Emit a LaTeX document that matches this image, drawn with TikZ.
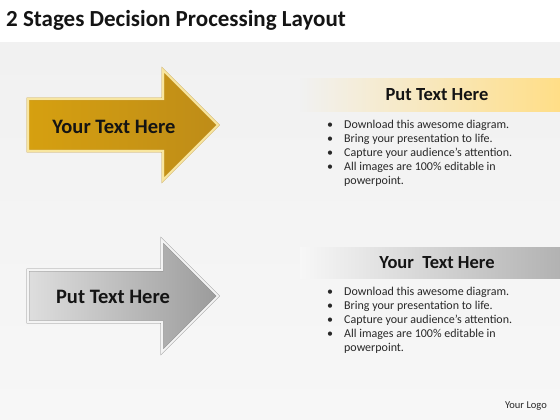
\documentclass[tikz,border=0pt]{standalone}
\usepackage{fontspec}
\setmainfont{Carlito}
\definecolor{goldA}{RGB}{214,160,16}
\definecolor{goldB}{RGB}{190,140,24}
\definecolor{goldEdge}{RGB}{200,160,60}
\definecolor{goldLight}{RGB}{248,230,160}
\definecolor{grayA}{RGB}{222,222,222}
\definecolor{grayB}{RGB}{155,155,155}
\definecolor{grayEdge}{RGB}{135,135,135}
\definecolor{grayLight}{RGB}{244,244,244}
\definecolor{bandYellow}{RGB}{255,222,135}
\definecolor{bandGray}{RGB}{178,178,178}
\definecolor{bgTop}{RGB}{241,241,241}
\definecolor{bgBot}{RGB}{247,247,247}
\definecolor{txt}{RGB}{20,20,20}
\definecolor{btxt}{RGB}{40,40,40}
\begin{document}
\begin{tikzpicture}[x=1pt,y=1pt,
  arrowtext/.style={font=\fontsize{20.5}{24}\selectfont\bfseries, text=txt},
  bandtitle/.style={font=\fontsize{18.5}{22}\selectfont\bfseries, text=txt},
  bullets/.style={anchor=north west, inner sep=0pt, text=btxt, font=\fontsize{12}{14.2}\selectfont},
]
\useasboundingbox (0,0) rectangle (560,420);
\fill[white] (0,0) rectangle (560,420);
\shade[top color=bgTop, bottom color=bgBot] (0,0) rectangle (560,377);
% title
\node[anchor=west, inner sep=0pt, text=txt, font=\fontsize{23}{27}\selectfont\bfseries] (title) at (6,400) {2 Stages Decision Processing Layout};
% arrow 1 (gold)
\shade[left color=goldA, right color=goldB, draw=goldEdge, double=goldLight, double distance=2pt, line join=miter]
  (28,269) -- (163,269) -- (163,240) -- (218,295) -- (163,350) -- (163,321) -- (28,321) -- cycle;
\node[arrowtext] (a1) at (114,293) {Your Text Here};
% arrow 2 (gray)
\shade[left color=grayA, right color=grayB, draw=grayEdge, double=grayLight, double distance=2pt, line join=miter]
  (28,98) -- (162,98) -- (162,68) -- (218,124) -- (162,180) -- (162,150) -- (28,150) -- cycle;
\node[arrowtext] (a2) at (113,123) {Put Text Here};
% band 1
\shade[left color=bgTop, right color=bandYellow] (300,308) rectangle (560,341);
\node[bandtitle] (b1) at (437,325) {Put Text Here};
\node[bullets] (l1) at (327,302) {\begin{tabular}{@{}l@{\hspace{11pt}}l@{}}
\textbullet & Download this awesome diagram.\\
\textbullet & Bring your presentation to life.\\
\textbullet & Capture your audience’s attention.\\
\textbullet & All images are 100\% editable in\\
 & powerpoint.
\end{tabular}};
% band 2
\shade[left color=bgBot, right color=bandGray] (300,141) rectangle (560,172);
\node[bandtitle] (b2) at (437,157) {Your\ \ Text Here};
\node[bullets] (l2) at (327,135) {\begin{tabular}{@{}l@{\hspace{11pt}}l@{}}
\textbullet & Download this awesome diagram.\\
\textbullet & Bring your presentation to life.\\
\textbullet & Capture your audience’s attention.\\
\textbullet & All images are 100\% editable in\\
 & powerpoint.
\end{tabular}};
% logo
\node[text=btxt, font=\fontsize{10.5}{12}\selectfont] (logo) at (526,14) {Your Logo};
\end{tikzpicture}
\end{document}
